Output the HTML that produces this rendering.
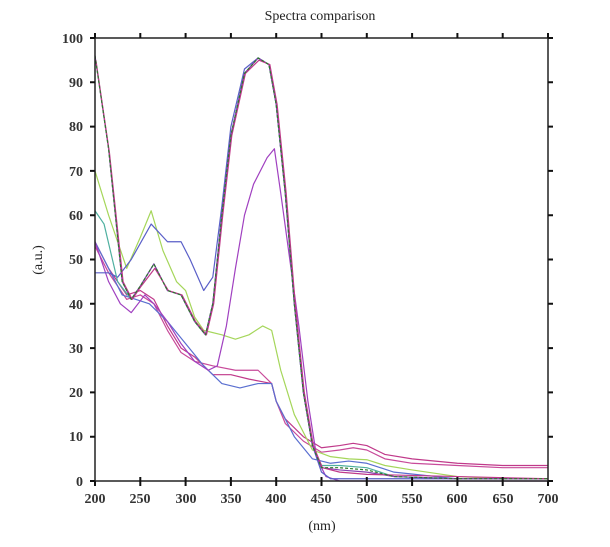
<!DOCTYPE html>
<html><head><meta charset="utf-8"><style>body{margin:0;background:#fff}svg{display:block}</style></head><body>
<svg width="610" height="547" xmlns="http://www.w3.org/2000/svg" font-family="Liberation Serif, serif">
<text x="320" y="20" font-size="14" text-anchor="middle" fill="#222">Spectra comparison</text>
<g fill="none" stroke-width="1.2" stroke-linejoin="round">
<g transform="matrix(0.906 0 0 -4.43 -86.2 481)">
<g vector-effect="non-scaling-stroke">
<polyline vector-effect="non-scaling-stroke" stroke="#c0398a" points="200,54 215,48 235,42 250,43 265,41 280,35 295,30 310,28 330,24 350,24 370,23 395,22 400,18 410,14 430,10 450,7.5 470,8 485,8.5 500,8 520,6 550,5 600,4 650,3.5 700,3.5"/>
<polyline vector-effect="non-scaling-stroke" stroke="#c84a9a" points="200,53 215,47 235,41 250,42 265,40 280,34 295,29 310,27 330,26 355,25 380,25 395,22 400,18 410,13 430,9 450,6.5 470,7 485,7.5 500,7 520,5 550,4 600,3.5 650,3 700,3"/>
<polyline vector-effect="non-scaling-stroke" stroke="#5a6fd0" points="200,54 230,42 260,40 280,36 300,31 320,26 340,22 360,21 380,22 395,22 400,18 420,10 440,5 460,4 480,4.5 500,4 530,2 600,0.5 700,0.5"/>
<polyline vector-effect="non-scaling-stroke" stroke="#a5d65a" points="200,70 215,60 235,48 250,55 262,61 275,52 290,45 300,43 310,37 320,34 340,33 355,32 370,33 385,35 395,34 405,25 420,15 440,7 460,5.5 480,5 500,4.8 520,3.5 550,2.5 600,1 650,0.5 700,0.5"/>
<polyline vector-effect="non-scaling-stroke" stroke="#a040c0" points="200,54 215,45 228,40 240,38 255,42 265,40 280,36 295,31 310,27 325,25 335,26 345,35 355,48 365,60 375,67 390,73 398,75 405,65 415,50 425,35 435,18 445,5 455,1 470,0 700,0"/>
<polyline vector-effect="non-scaling-stroke" stroke="#5a5fc8" points="200,47 215,47 225,46 240,50 262,58 280,54 295,54 305,50 320,43 330,46 340,62 350,80 365,93 380,95.5 392,94 400,85 410,65 420,40 430,20 440,8 450,2 460,0.5 700,0.5"/>
<polyline vector-effect="non-scaling-stroke" stroke="#4fb0a0" points="200,61 210,58 225,45 240,41 250,44 265,49 280,43 295,42 310,36 322,33 330,40 340,60 350,78 365,92 380,95.5 392,94 400,85 410,65 420,40 430,20 440,8 450,3.5 470,3.5 500,3 530,1 600,0.5 700,0.5"/>
<polyline vector-effect="non-scaling-stroke" stroke="#8a3fb0" points="200,96 215,75 230,45 240,41 250,44 265,49 280,43 295,42 310,36 322,33 330,40 340,60 350,78 365,92 380,95.5 392,94 400,85 410,65 420,40 430,20 440,8 450,3 470,2.5 500,2 530,1 600,0.5 700,0.5"/>
<polyline vector-effect="non-scaling-stroke" stroke="#c0398a" points="201,95 216,74 231,45 241,41 251,44 266,48 281,43 296,42 311,36 323,33 331,40 341,60 351,78 366,92 381,95 393,94 401,85 411,65 421,40 431,20 441,8 451,3 470,2 500,1.5 700,0.5"/>
<polyline vector-effect="non-scaling-stroke" stroke="#2d7a2d" stroke-dasharray="3 2" points="200,96 215,75 230,45 240,41 250,44 265,49 280,43 295,42 310,36 322,33 330,40 340,60 350,78 365,92 380,95.5 392,94 400,85 410,65 420,40 430,20 440,8 450,3 470,3 500,2.5 530,1 600,0.5 700,0.5"/>
</g></g></g>
<rect x="95" y="38" width="453" height="443" fill="none" stroke="#222" stroke-width="1.5"/>
<g stroke="#111" stroke-width="2">
<path d="M95,38h-5M95,82.3h-5M95,126.6h-5M95,170.9h-5M95,215.2h-5M95,259.5h-5M95,303.8h-5M95,348.1h-5M95,392.4h-5M95,436.7h-5M95,481h-5"/>
<path d="M548,38h5M548,82.3h5M548,126.6h5M548,170.9h5M548,215.2h5M548,259.5h5M548,303.8h5M548,348.1h5M548,392.4h5M548,436.7h5M548,481h5"/>
<path d="M95,481v5M140.3,477v9M185.6,477v9M230.9,477v9M276.2,477v9M321.5,477v9M366.8,477v9M412.1,477v9M457.4,477v9M502.7,477v9M548,481v5"/>
<path d="M95,38v-5M140.3,38v-5M185.6,38v-5M230.9,38v-5M276.2,38v-5M321.5,38v-5M366.8,38v-5M412.1,38v-5M457.4,38v-5M502.7,38v-5M548,38v-5"/>
</g>
<g font-size="14" font-weight="bold" fill="#333" text-anchor="end">
<text x="83" y="43">100</text><text x="83" y="87">90</text><text x="83" y="131">80</text><text x="83" y="176">70</text><text x="83" y="220">60</text><text x="83" y="264">50</text><text x="83" y="309">40</text><text x="83" y="353">30</text><text x="83" y="397">20</text><text x="83" y="441">10</text><text x="83" y="486">0</text>
</g>
<g font-size="14" font-weight="bold" fill="#333" text-anchor="middle">
<text x="95" y="503">200</text><text x="140" y="503">250</text><text x="186" y="503">300</text><text x="231" y="503">350</text><text x="276" y="503">400</text><text x="321" y="503">450</text><text x="367" y="503">500</text><text x="412" y="503">550</text><text x="457" y="503">600</text><text x="503" y="503">650</text><text x="548" y="503">700</text>
</g>
<text x="322" y="530" font-size="14" text-anchor="middle" fill="#222">(nm)</text>
<text transform="translate(42,260) rotate(-90)" font-size="14" text-anchor="middle" fill="#222">(a.u.)</text>
</svg>
</body></html>
